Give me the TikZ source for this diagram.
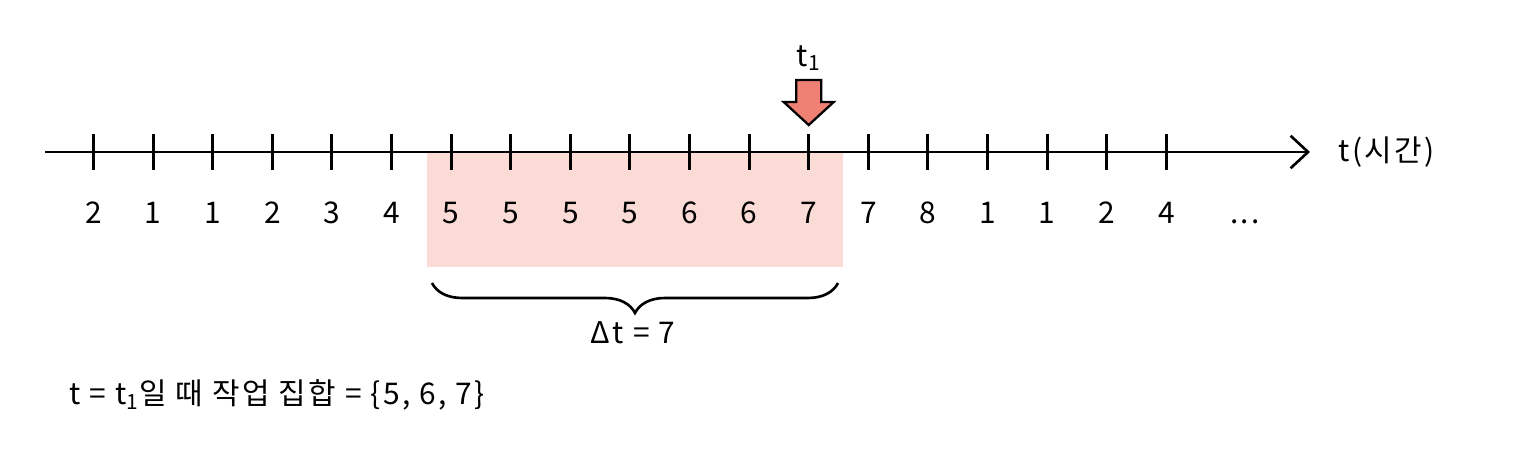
\documentclass[tikz,border=0pt]{standalone}
\usepackage{fontspec}
\setmainfont[LetterSpace=8]{Noto Sans CJK KR}
\usepackage{tikz}
\usetikzlibrary{positioning, calc, arrows.meta, decorations.pathreplacing}
\definecolor{window}{RGB}{251,219,214}
\definecolor{marker}{RGB}{239,128,116}

\begin{document}
\begin{tikzpicture}[>=Stealth, font=\fontsize{17}{20}\selectfont, line width=1.5pt,
    tick/.style={line width=1.8pt},
    val/.style={anchor=base, inner sep=0pt}]
    \useasboundingbox (0,0) rectangle (30.32,9.1);

    % working-set window
    \fill[window] (8.54,3.76) rectangle (16.86,6.06);

    % time axis
    \coordinate (start) at (0.9,6.06);
    \coordinate (end) at (26.2,6.06);
    \draw[-{Straight Barb[length=0.35cm, width=0.65cm]}] (start) -- (end);
    \node[right=0.55cm of end, inner sep=0pt] (axis) {t(시간)};

    % ticks and values
    \foreach \v [count=\i from 0] in {2,1,1,2,3,4,5,5,5,5,6,6,7,7,8,1,1,2,4} {
      \coordinate (t\i) at (1.87+1.192*\i, 6.06);
      \draw[tick] ($(t\i)+(0,-0.36)$) -- ($(t\i)+(0,0.36)$);
      \node[val] (v\i) at ($(t\i)+(0,-1.44)$) {\v};
    }
    \node[val] (more) at (24.9,4.62) {...};

    % marker at t1
    \coordinate (mark) at ($(t12)+(0,0.54)$);
    \draw[fill=marker, line width=1.3pt, line join=miter] (mark) -- ++(-0.5,0.46) -- ++(0.25,0)
      -- ++(0,0.44) -- ++(0.5,0) -- ++(0,-0.44) -- ++(0.25,0) -- cycle;
    \node (tone) at ($(mark)+(0,1.34)$) {t\textsubscript{1}};

    % window size
    \coordinate (bl) at (8.64,3.44);
    \coordinate (br) at (16.76,3.44);
    \draw[decorate, decoration={brace, mirror, amplitude=0.6cm}] (bl) -- (br);
    \node (delta) at (12.66,2.44) {Δt = 7};

    \node[anchor=west, inner sep=0pt] (ws) at (1.36,1.2) {t = t\textsubscript{1}일 때 작업 집합 = \{5, 6, 7\}};
\end{tikzpicture}
\end{document}
